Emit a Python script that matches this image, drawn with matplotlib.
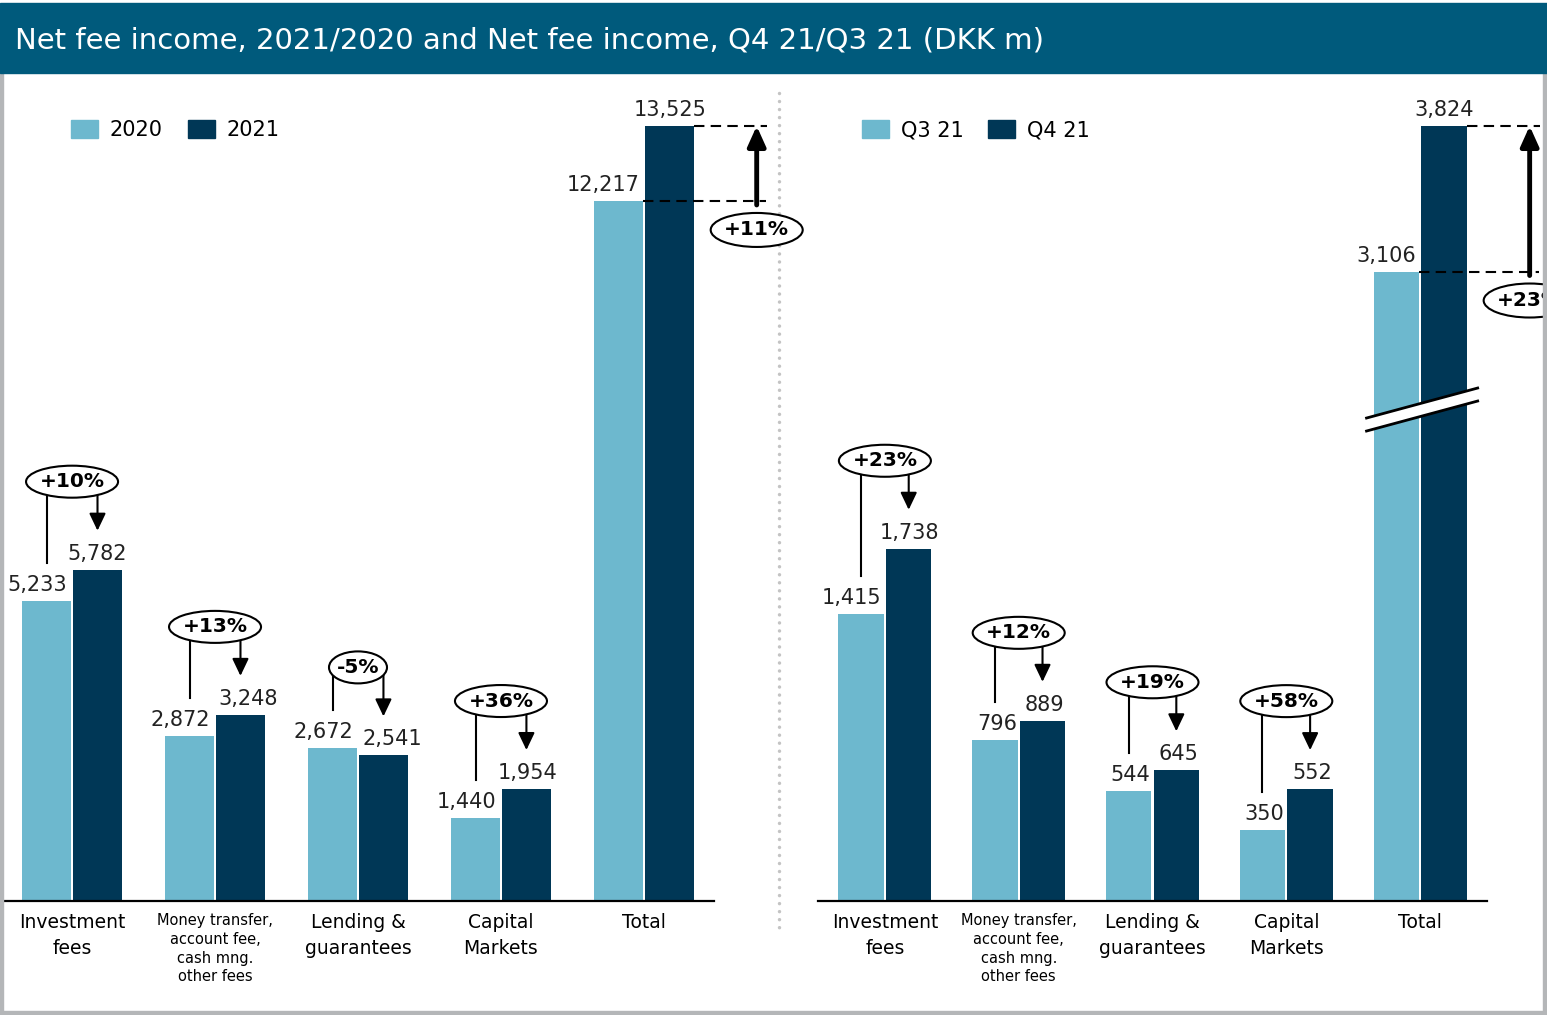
import numpy as np
import matplotlib
matplotlib.use("Agg")
import matplotlib.pyplot as plt
from matplotlib.patches import Rectangle, Ellipse, FancyArrowPatch, Polygon, Patch
from matplotlib.lines import Line2D
from matplotlib.transforms import IdentityTransform

# data (DKK m)
categories = ["Investment\nfees",
              "Money transfer,\naccount fee,\ncash mng.\nother fees",
              "Lending &\nguarantees",
              "Capital\nMarkets",
              "Total"]
fy_2020 = [5233, 2872, 2672, 1440, 12217]
fy_2021 = [5782, 3248, 2541, 1954, 13525]
fy_change = ["+10%", "+13%", "-5%", "+36%", "+11%"]
q3_21 = [1415, 796, 544, 350, 3106]
q4_21 = [1738, 889, 645, 552, 3824]
q_change = ["+23%", "+12%", "+19%", "+58%", "+23%"]

LIGHT = "#6DB8CE"
DARK = "#003756"
BAR_COL = "#005A7C"
BORDER = "#B4B6B8"

W, H = 1547, 1015
fig = plt.figure(figsize=(W / 100, H / 100), dpi=100)
plt.rcParams["font.family"] = ["DejaVu Sans"]
ID = IdentityTransform()


def fx(p):
    return p / W


def fy(p):
    return 1 - p / H


BW, OFF = 0.34, 0.178


def px(ax, x, y):
    return ax.transData.transform((x, y))


def bubble(cx, cy, w, h, text):
    fig.add_artist(Ellipse((cx, cy), w, h, transform=ID, fc="white",
                           ec="black", lw=1.5, zorder=5))
    fig.text(cx, cy, text, transform=ID, ha="center", va="center",
             fontsize=14.5, fontweight="bold", zorder=6)


def edge_y(cx, cy, w, h, x):
    t = max(0.0, 1 - ((x - cx) / (w / 2)) ** 2)
    return cy - h / 2 * np.sqrt(t)


def arrow(p0, p1, lw, hl, hw):
    fig.add_artist(FancyArrowPatch(p0, p1, transform=ID,
                                   arrowstyle=f"-|>,head_length={hl},head_width={hw}",
                                   mutation_scale=10, lw=lw, color="black",
                                   shrinkA=0, shrinkB=0, zorder=4))


def change_marker(ax, i, old, new, text):
    xo, yo = px(ax, i - OFF, old)
    xn, yn = px(ax, i + OFF, new)
    xc = px(ax, i, 0)[0]
    w = 92 if len(text) > 3 else 58
    h = 32
    cy = yn + 88
    fig.add_artist(Line2D([xo, xo], [yo + 38, edge_y(xc, cy, w, h, xo)],
                          transform=ID, color="black", lw=1.5, zorder=4))
    arrow((xn, edge_y(xc, cy, w, h, xn)), (xn, yn + 39), 1.5, 1.05, 0.5)
    bubble(xc, cy, w, h, text)


def total_marker(ax, i, old, new, text):
    xo_r, yo = px(ax, i - OFF + BW / 2, old)
    xn_r, yn = px(ax, i + OFF + BW / 2, new)
    xa = xn_r + 63
    dash = dict(transform=ID, color="black", lw=1.5, ls=(0, (5, 3)), zorder=4)
    fig.add_artist(Line2D([xn_r, xa + 10], [yn, yn], **dash))
    fig.add_artist(Line2D([xo_r, xa + 9], [yo, yo], **dash))
    arrow((xa, yo - 4), (xa, yn), 3.5, 1.2, 0.54)
    bubble(xa, yo - 29, 92, 34, text)


def panel(rect, old, new, changes, names, xlim, leg_x, old_dx, new_dx):
    ax = fig.add_axes(rect)
    x = np.arange(len(old))
    ax.bar(x - OFF, old, BW, color=LIGHT, zorder=2)
    ax.bar(x + OFF, new, BW, color=DARK, zorder=2)
    ax.set_xlim(*xlim)
    ax.set_ylim(0, max(new) * 821 / 775)
    for s in ["top", "right", "left"]:
        ax.spines[s].set_visible(False)
    ax.spines["bottom"].set_linewidth(1.6)
    ax.spines["bottom"].set_zorder(3)
    ax.set_yticks([])
    ax.set_xticks(x, categories)
    ax.tick_params(axis="x", length=0, pad=9)
    for k, lbl in enumerate(ax.get_xticklabels()):
        if k == 1:
            lbl.set_fontsize(10.5)
            lbl.set_linespacing(1.3)
        else:
            lbl.set_fontsize(13.5)
            lbl.set_linespacing(1.45)
    for k in range(len(old)):
        ax.annotate(f"{old[k]:,}", (k - OFF, old[k]), xytext=(old_dx[k], 10),
                    textcoords="offset pixels", ha="center", va="baseline",
                    fontsize=15, color="#222222")
        ax.annotate(f"{new[k]:,}", (k + OFF, new[k]), xytext=(new_dx[k], 10),
                    textcoords="offset pixels", ha="center", va="baseline",
                    fontsize=15, color="#222222")
    handles = [Patch(color=LIGHT, label=names[0]), Patch(color=DARK, label=names[1])]
    ax.legend(handles=handles, loc="center left", bbox_to_anchor=(leg_x, 0.939),
              ncol=2, frameon=False, fontsize=15, handlelength=1.3,
              handleheight=0.92, handletextpad=0.55, columnspacing=1.2,
              borderpad=0, borderaxespad=0)
    for k in range(len(old) - 1):
        change_marker(ax, k, old[k], new[k], changes[k])
    total_marker(ax, len(old) - 1, old[-1], new[-1], changes[-1])
    return ax


ax1 = panel([fx(5), fy(901), fx(714) - fx(5), fy(80) - fy(901)],
            fy_2020, fy_2021, fy_change, ["2020", "2021"],
            (-0.469, 4.49), (71 - 5) / 709,
            [-9, -9, -9, -9, -15], [0, 8, 9, 1, 1])
ax2 = panel([fx(818), fy(901), fx(1487) - fx(818), fy(80) - fy(901)],
            q3_21, q4_21, q_change, ["Q3 21", "Q4 21"],
            (-0.50, 4.50), (862 - 818) / 669,
            [-10, 2, 2, 2, -10], [1, 2, 2, 2, 0])

# axis break across the Q totals
BREAK_AT = 2425
xl = px(ax2, 4 - OFF - BW / 2, 0)[0] - 7
xr = px(ax2, 4 + OFF + BW / 2, 0)[0] + 11
yc = px(ax2, 4, BREAK_AT)[1]
rise, gap = 30, 6.5
lo = [yc - rise / 2 - gap, yc + rise / 2 - gap]
hi = [yc - rise / 2 + gap, yc + rise / 2 + gap]
fig.add_artist(Polygon([[xl, lo[0]], [xr, lo[1]], [xr, hi[1]], [xl, hi[0]]],
                       closed=True, transform=ID, fc="white", ec="none", zorder=3))
for ys in (lo, hi):
    fig.add_artist(Line2D([xl, xr], ys, transform=ID, color="black", lw=2, zorder=3))

# dotted divider between the two charts
fig.add_artist(Line2D([fx(779), fx(779)], [fy(93), fy(930)], color="#C4C4C4",
                      lw=2.5, ls=(0, (0.01, 2.3)), dash_capstyle="round"))

# frame and title bar
fig.add_artist(Rectangle((0, 0), fx(3), fy(73), color=BORDER, zorder=10))
fig.add_artist(Rectangle((fx(1543), 0), 1 - fx(1543), fy(73), color=BORDER, zorder=10))
fig.add_artist(Rectangle((0, 0), 1, 4 / H, color=BORDER, zorder=10))
fig.add_artist(Rectangle((0, fy(73)), 1, fy(3) - fy(73), color=BAR_COL, zorder=10))
fig.text(fx(15), fy(40),
         "Net fee income, 2021/2020 and Net fee income, Q4 21/Q3 21 (DKK m)",
         color="white", fontsize=21, ha="left", va="center", zorder=11)

fig.savefig("out.png", dpi=100)
